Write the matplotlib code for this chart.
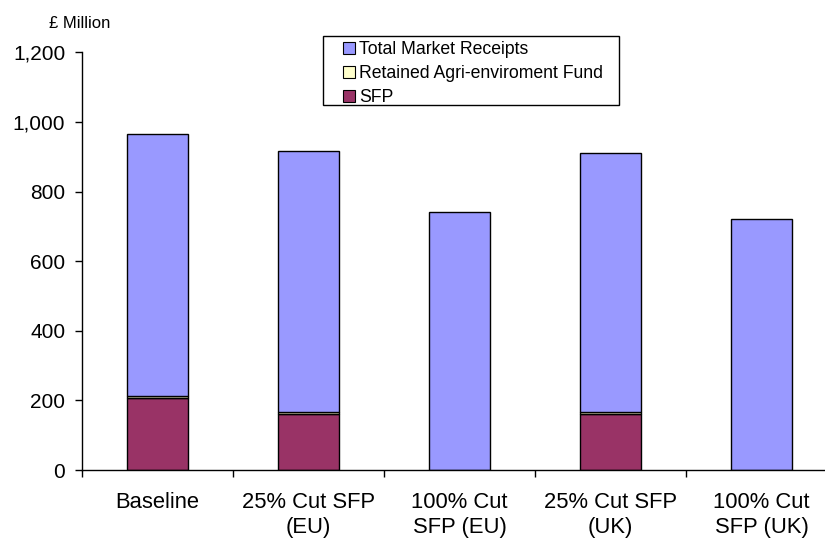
import matplotlib
matplotlib.use("Agg")
import matplotlib.pyplot as plt
from matplotlib.lines import Line2D
from matplotlib.patches import Rectangle
from matplotlib.ticker import FuncFormatter, FixedLocator

plt.rcParams['font.family'] = ['Liberation Sans', 'DejaVu Sans']

# data (£ million)
categorias = ["Baseline", "25% Cut SFP\n(EU)", "100% Cut\nSFP (EU)",
              "25% Cut SFP\n(UK)", "100% Cut\nSFP (UK)"]
sfp = [208, 162, 0, 162, 0]
agri_fund = [6, 5, 0, 5, 0]
market_receipts = [753, 751, 742, 745, 722]
series_nomes = ["Total Market Receipts", "Retained Agri-enviroment Fund", "SFP"]
cores = ["#9999FF", "#FFFFCC", "#993366"]

W, H = 825, 539
fig = plt.figure(figsize=(W / 100, H / 100), dpi=100)
ax = fig.add_axes([82 / W, 69 / H, 755 / W, 417.5 / H])

x = list(range(len(categorias)))
base2 = [a + b for a, b in zip(sfp, agri_fund)]
ax.bar(x, sfp, width=0.4, color=cores[2], edgecolor="black", linewidth=1)
ax.bar(x, agri_fund, width=0.4, bottom=sfp, color=cores[1], edgecolor="black", linewidth=1)
ax.bar(x, market_receipts, width=0.4, bottom=base2, color=cores[0], edgecolor="black", linewidth=1)

ax.set_xlim(-0.5, len(categorias) - 0.5)
ax.set_ylim(0, 1200)
ax.set_yticks(range(0, 1201, 200))
ax.yaxis.set_major_formatter(FuncFormatter(lambda v, p: f"{int(v):,}"))
ax.tick_params(axis="y", length=5, width=1, pad=7, labelsize=15, direction="out")

ax.set_xticks(x)
ax.set_xticklabels(categorias, fontsize=15.8, linespacing=1.25)
ax.xaxis.set_minor_locator(FixedLocator([i - 0.5 for i in range(len(categorias) + 1)]))
ax.tick_params(axis="x", which="major", length=0, pad=16)
ax.tick_params(axis="x", which="minor", length=5, width=1, direction="out")

for s in ["top", "right"]:
    ax.spines[s].set_visible(False)
for s in ["left", "bottom"]:
    ax.spines[s].set_color("black")
    ax.spines[s].set_linewidth(1)

fig.text(49 / W, 1 - 28 / H, "£ Million", fontsize=12, va="baseline", ha="left")

# legend: frame drawn separately so the padding can match the original
handles = [Line2D([], [], marker="s", linestyle="none", markersize=8,
                  markerfacecolor=c, markeredgecolor="black", markeredgewidth=0.8)
           for c in cores]
leg = fig.legend(handles, series_nomes, loc="upper left",
                 bbox_to_anchor=(343 / W, 1 - 41 / H), fontsize=12.7,
                 frameon=False, borderpad=0, labelspacing=0.4,
                 handlelength=0.7, handletextpad=0.2, borderaxespad=0)
fig.patches.append(Rectangle((323 / W, 1 - 105 / H), (619 - 323) / W, 69 / H,
                             transform=fig.transFigure, fill=False,
                             edgecolor="black", linewidth=1))

fig.savefig("out.png", dpi=100)
